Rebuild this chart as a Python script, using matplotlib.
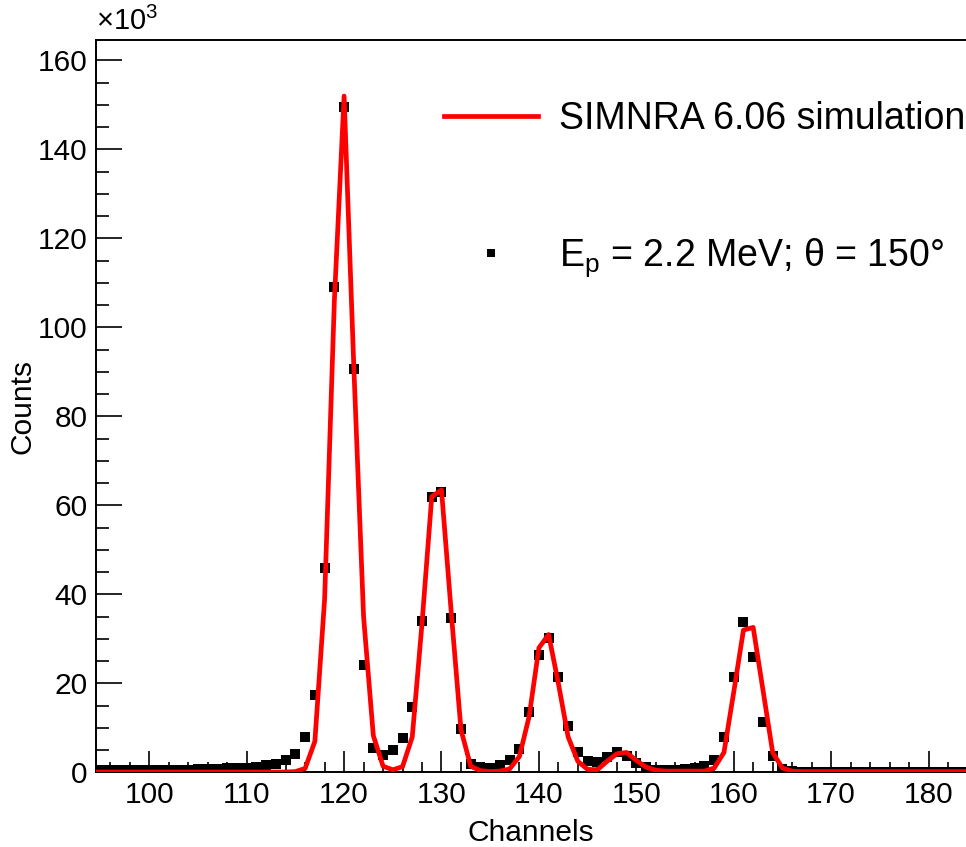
"""SIMNRA simulation vs measured RBS spectrum (Ep = 2.2 MeV, theta = 150 deg)."""

import matplotlib

matplotlib.use("Agg")
import matplotlib.pyplot as plt
import numpy as np
from matplotlib.ticker import MultipleLocator

plt.rcParams["font.family"] = ["Liberation Sans", "DejaVu Sans"]
plt.rcParams["mathtext.fontset"] = "custom"
plt.rcParams["mathtext.rm"] = "Liberation Sans"
plt.rcParams["mathtext.it"] = "Liberation Sans:italic"

# channels 94..185, counts in units of 10^3
channels = np.arange(94, 186)

measured = [
    0.45, 0.45, 0.45, 0.5, 0.5, 0.5, 0.55, 0.55, 0.6, 0.6,          # 94-103
    0.65, 0.7, 0.75, 0.8, 0.9, 1.0, 1.1, 1.3, 1.6, 2.0,             # 104-113
    2.7, 4.2, 8.0, 17.5, 46.0, 109.0, 149.5, 90.7, 24.2, 5.6,       # 114-123
    4.0, 5.0, 7.8, 14.6, 34.0, 62.0, 63.0, 34.6, 9.8, 2.0,          # 124-133
    1.3, 1.1, 1.6, 2.8, 5.2, 13.5, 26.5, 30.3, 21.5, 10.5,          # 134-143
    4.7, 2.6, 2.4, 3.5, 4.5, 3.6, 2.1, 1.2, 0.6, 0.5,               # 144-153
    0.5, 0.7, 1.0, 1.4, 2.9, 8.0, 21.5, 33.8, 26.0, 11.4,           # 154-163
    3.6, 0.8, 0.3, 0.2, 0.2, 0.2, 0.2, 0.2, 0.2, 0.2,               # 164-173
    0.2, 0.2, 0.2, 0.2, 0.2, 0.2, 0.2, 0.2, 0.2, 0.2,               # 174-183
    0.2, 0.2,                                                       # 184-185
]

simulation = [
    0.1, 0.1, 0.1, 0.1, 0.1, 0.1, 0.1, 0.1, 0.1, 0.1,               # 94-103
    0.1, 0.1, 0.1, 0.1, 0.1, 0.1, 0.1, 0.1, 0.1, 0.1,               # 104-113
    0.1, 0.2, 0.9, 7.0, 39.0, 106.0, 152.0, 91.0, 35.0, 8.3,        # 114-123
    1.4, 0.6, 1.3, 8.0, 33.5, 62.0, 63.5, 36.0, 9.6, 1.4,           # 124-133
    0.4, 0.2, 0.3, 0.8, 3.6, 12.6, 28.0, 31.0, 20.0, 8.0,           # 134-143
    2.5, 0.7, 0.6, 2.5, 4.2, 4.5, 2.7, 1.2, 0.5, 0.3,               # 144-153
    0.3, 0.3, 0.3, 0.3, 1.0, 4.5, 18.0, 32.0, 32.6, 18.6,           # 154-163
    4.5, 1.0, 0.3, 0.2, 0.2, 0.2, 0.2, 0.2, 0.2, 0.2,               # 164-173
    0.2, 0.2, 0.2, 0.2, 0.2, 0.2, 0.2, 0.2, 0.2, 0.2,               # 174-183
    0.2, 0.2,                                                       # 184-185
]

fig = plt.figure(figsize=(9.66, 8.47), dpi=100)
ax = fig.add_axes([0.0994, 0.0880, 0.9006, 0.8648])

ax.plot(channels, measured, "s", color="black", ms=7.8, mew=0,
        label=r"E$_{\mathrm{p}}$ = 2.2 MeV; θ = 150°", zorder=2)
ax.plot(channels, simulation, "-", color="#ff0000", lw=3.4,
        label="SIMNRA 6.06 simulation", zorder=3)

ax.set_xlim(94.53, 183.85)
ax.set_ylim(0, 164.6)

ax.xaxis.set_major_locator(MultipleLocator(10))
ax.xaxis.set_minor_locator(MultipleLocator(2))
ax.yaxis.set_major_locator(MultipleLocator(20))
ax.yaxis.set_minor_locator(MultipleLocator(5))
ax.tick_params(which="both", direction="in", top=False, right=False,
               labelsize=21.5, width=1.2, pad=6)
ax.tick_params(which="major", axis="x", length=15)
ax.tick_params(which="minor", axis="x", length=7.5)
ax.tick_params(which="major", axis="y", length=19)
ax.tick_params(which="minor", axis="y", length=9.5)
for side in ["left", "bottom", "top"]:
    ax.spines[side].set_linewidth(1.4)
ax.spines["right"].set_visible(False)

ax.set_xlabel("Channels", fontsize=21.5)
ax.set_ylabel("Counts", fontsize=21.5)
ax.xaxis.set_label_coords(0.5, -0.063)
ax.yaxis.set_label_coords(-0.068, 0.5)
ax.text(0.0, 1.006, r"$\times10^{3}$", transform=ax.transAxes,
        fontsize=21, ha="left", va="bottom")

handles, labels = ax.get_legend_handles_labels()
leg = ax.legend(handles[::-1], labels[::-1], loc="upper left",
                bbox_to_anchor=(0.383, 0.937), frameon=False, fontsize=27,
                handlelength=2.5, handletextpad=0.55, labelspacing=2.65,
                markerscale=0.8, borderaxespad=0)

fig.savefig("out.png", dpi=100)
